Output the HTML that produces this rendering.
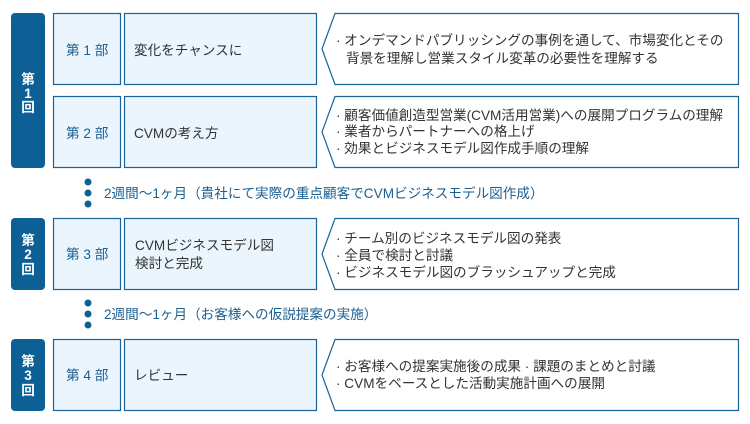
<!DOCTYPE html>
<html><head><meta charset="utf-8"><style>
body{margin:0;background:#fff;}
svg{display:block;font-family:"Liberation Sans","Noto Sans CJK JP",sans-serif;}
.t{font-size:13.6px;fill:#333;}
.b{font-size:13.6px;fill:#1b5f91;}
.w{font-size:13.6px;fill:#fff;font-weight:bold;}
.lb{fill:#eaf5fd;stroke:#1b6396;stroke-width:1.2;}
.rb{fill:#fff;stroke:#1b6396;stroke-width:1.2;}
</style></head><body>
<svg width="750" height="424" viewBox="0 0 750 424">
<rect x="11" y="13" width="34" height="155" rx="4" fill="#0d6095"/>
<rect x="11" y="218" width="34" height="72" rx="4" fill="#0d6095"/>
<rect x="11" y="339" width="34" height="72" rx="4" fill="#0d6095"/>
<g class="w" text-anchor="middle">
<text x="28" y="84">第</text><text x="28" y="98">1</text><text x="28" y="112">回</text>
<text x="28" y="245">第</text><text x="28" y="259">2</text><text x="28" y="274">回</text>
<text x="28" y="366">第</text><text x="28" y="380">3</text><text x="28" y="395">回</text>
</g>
<g>
<rect class="lb" x="53.5" y="13.5" width="67" height="71"/><rect class="lb" x="124.5" y="13.5" width="192" height="71"/>
<polygon class="rb" points="335,13.5 738.5,13.5 738.5,84.5 335,84.5 322,49"/>
<rect class="lb" x="53.5" y="96.5" width="67" height="71"/><rect class="lb" x="124.5" y="96.5" width="192" height="71"/>
<polygon class="rb" points="335,96.5 738.5,96.5 738.5,167.5 335,167.5 322,132"/>
<rect class="lb" x="53.5" y="218.5" width="67" height="71"/><rect class="lb" x="124.5" y="218.5" width="192" height="71"/>
<polygon class="rb" points="335,218.5 738.5,218.5 738.5,289.5 335,289.5 322,254"/>
<rect class="lb" x="53.5" y="339.5" width="67" height="71"/><rect class="lb" x="124.5" y="339.5" width="192" height="71"/>
<polygon class="rb" points="335,339.5 738.5,339.5 738.5,410.5 335,410.5 322,375"/>
</g>
<g class="b">
<text x="66" y="55">第 1 部</text>
<text x="66" y="138">第 2 部</text>
<text x="66" y="259">第 3 部</text>
<text x="66" y="380">第 4 部</text>
</g>
<g class="t">
<text x="134" y="55">変化をチャンスに</text>
<text x="134" y="138">CVMの考え方</text>
<text x="135" y="250">CVMビジネスモデル図</text>
<text x="135" y="268">検討と完成</text>
<text x="134" y="380">レビュー</text>
<text x="336" y="45">· オンデマンドパブリッシングの事例を通して、市場変化とその</text>
<text x="346" y="63">背景を理解し営業スタイル変革の必要性を理解する</text>
<text x="336" y="120">· 顧客価値創造型営業(CVM活用営業)への展開プログラムの理解</text>
<text x="336" y="136">· 業者からパートナーへの格上げ</text>
<text x="336" y="153">· 効果とビジネスモデル図作成手順の理解</text>
<text x="336" y="243">· チーム別のビジネスモデル図の発表</text>
<text x="336" y="260">· 全員で検討と討議</text>
<text x="336" y="277">· ビジネスモデル図のブラッシュアップと完成</text>
<text x="336" y="371">· お客様への提案実施後の成果 · 課題のまとめと討議</text>
<text x="336" y="388">· CVMをベースとした活動実施計画への展開</text>
</g>
<g fill="#0d6095">
<circle cx="88" cy="182" r="3.5"/><circle cx="88" cy="193" r="3.5"/><circle cx="88" cy="204" r="3.5"/>
<circle cx="88" cy="303" r="3.5"/><circle cx="88" cy="314" r="3.5"/><circle cx="88" cy="325" r="3.5"/>
</g>
<g class="b">
<text x="104" y="198">2週間～1ヶ月（貴社にて実際の重点顧客でCVMビジネスモデル図作成）</text>
<text x="104" y="319">2週間～1ヶ月（お客様への仮説提案の実施）</text>
</g>
</svg>
</body></html>
